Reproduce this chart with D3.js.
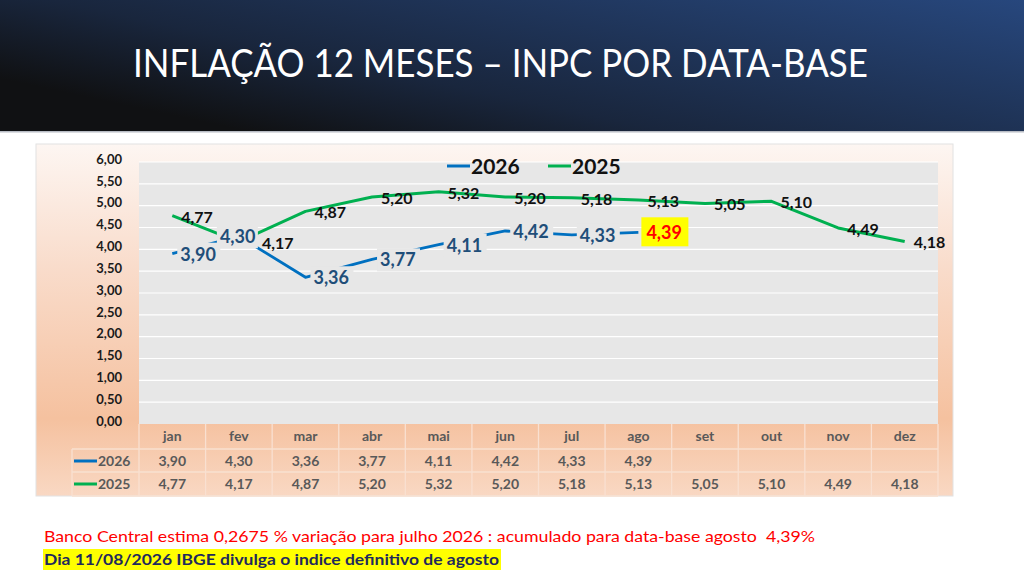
<!DOCTYPE html>
<html>
<head>
<meta charset="utf-8">
<script src="https://cdn.jsdelivr.net/npm/d3@7"></script>
<style>
  html, body { margin: 0; padding: 0; background: #ffffff; }
  svg { display: block; font-family: Lato, "Open Sans", sans-serif; }
  .pre { white-space: pre; }
</style>
</head>
<body>
<svg id="chart" width="1024" height="576"></svg>
<script>
// chart values
var months = ["jan", "fev", "mar", "abr", "mai", "jun", "jul", "ago", "set", "out", "nov", "dez"];
var values2026 = [3.90, 4.30, 3.36, 3.77, 4.11, 4.42, 4.33, 4.39];
var values2025 = [4.77, 4.17, 4.87, 5.20, 5.32, 5.20, 5.18, 5.13, 5.05, 5.10, 4.49, 4.18];
var yTicks = [0, 0.5, 1, 1.5, 2, 2.5, 3, 3.5, 4, 4.5, 5, 5.5, 6];
var seriesNames = ["2026", "2025"];

var titleText = "INFLAÇÃO 12 MESES – INPC POR DATA-BASE";
var noteText = "Banco Central estima 0,2675 % variação para julho 2026 : acumulado para data-base agosto  4,39%";
var highlightText = "Dia 11/08/2026 IBGE divulga o indice definitivo de agosto";

var blue = "#0070c0", green = "#00b050";

var ptBR = d3.formatLocale({decimal: ",", thousands: ".", grouping: [3], currency: ["R$", ""]});
var fmt = ptBR.format(".2f");

var svg = d3.select("#chart");
var defs = svg.append("defs");

// header band
var hg = defs.append("linearGradient").attr("id", "hdrGrad")
    .attr("x1", "0%").attr("y1", "60%").attr("x2", "100%").attr("y2", "0%");
hg.append("stop").attr("offset", "0%").attr("stop-color", "#101113");
hg.append("stop").attr("offset", "30%").attr("stop-color", "#19263d");
hg.append("stop").attr("offset", "100%").attr("stop-color", "#27477d");

svg.append("rect").attr("x", 0).attr("y", 0).attr("width", 1024).attr("height", 131)
    .attr("fill", "url(#hdrGrad)");
svg.append("rect").attr("x", 0).attr("y", 131).attr("width", 1024).attr("height", 1.5)
    .attr("fill", "#b8bcc4");

svg.append("text")
    .attr("x", 133).attr("y", 77)
    .attr("textLength", 735).attr("lengthAdjust", "spacingAndGlyphs")
    .attr("fill", "#ffffff").attr("font-size", 38)
    .text(titleText);

// chart box
var bg = defs.append("linearGradient").attr("id", "boxGrad")
    .attr("x1", 0).attr("y1", 0).attr("x2", 0).attr("y2", 1);
bg.append("stop").attr("offset", "0%").attr("stop-color", "#fdf6f2");
bg.append("stop").attr("offset", "35%").attr("stop-color", "#f9dccb");
bg.append("stop").attr("offset", "78%").attr("stop-color", "#f5c19f");
bg.append("stop").attr("offset", "100%").attr("stop-color", "#f9d8c3");

var box = {left: 36, top: 144, right: 953, bottom: 496};
svg.append("rect")
    .attr("x", box.left).attr("y", box.top)
    .attr("width", box.right - box.left).attr("height", box.bottom - box.top)
    .attr("fill", "url(#boxGrad)").attr("stroke", "#e2e2e2").attr("stroke-width", 1);

var plot = {left: 139, right: 938, top: 162, bottom: 424};

var x = d3.scaleBand().domain(months).range([plot.left, plot.right]);
var y = d3.scaleLinear().domain([0, 6]).range([plot.bottom, plot.top]);
var cx = function(i) { return x(months[i]) + x.bandwidth() / 2; };

svg.append("rect")
    .attr("x", plot.left).attr("y", plot.top)
    .attr("width", plot.right - plot.left).attr("height", plot.bottom - plot.top)
    .attr("fill", "#e7e7e7");

svg.append("g").selectAll("line")
    .data(yTicks.filter(function(d) { return d > 0; }))
    .enter().append("line")
    .attr("x1", plot.left).attr("x2", plot.right)
    .attr("y1", function(d) { return y(d); }).attr("y2", function(d) { return y(d); })
    .attr("stroke", "#ffffff").attr("stroke-width", 1.2);

var yAxis = svg.append("g")
    .attr("transform", "translate(" + (plot.left - 17) + ",0)")
    .call(d3.axisLeft(y).tickValues(yTicks).tickFormat(fmt).tickSize(0).tickPadding(0));
yAxis.select(".domain").remove();
yAxis.selectAll("text")
    .attr("font-family", "Lato, sans-serif")
    .attr("font-size", 13).attr("font-weight", "bold").attr("fill", "#1a1a1a")
    .attr("dy", "0.1em");

// data table below the plot
var rowTop = [424, 449, 472], rowBottom = 496;
var tableLine = "#f9e0d1";
var table = svg.append("g");

table.selectAll(".vline")
    .data(d3.range(months.length + 1))
    .enter().append("line")
    .attr("x1", function(i) { return plot.left + i * x.bandwidth(); })
    .attr("x2", function(i) { return plot.left + i * x.bandwidth(); })
    .attr("y1", rowTop[0]).attr("y2", rowBottom)
    .attr("stroke", tableLine).attr("stroke-width", 1.3);

table.append("line").attr("x1", 72).attr("x2", 72)
    .attr("y1", rowTop[1]).attr("y2", rowBottom)
    .attr("stroke", tableLine).attr("stroke-width", 1.3);

[rowTop[1], rowTop[2], rowBottom].forEach(function(yy) {
    table.append("line").attr("x1", 72).attr("x2", plot.right)
        .attr("y1", yy).attr("y2", yy)
        .attr("stroke", tableLine).attr("stroke-width", 1.3);
});

table.selectAll(".month")
    .data(months)
    .enter().append("text")
    .attr("x", function(d) { return x(d) + x.bandwidth() / 2; })
    .attr("y", 441)
    .attr("text-anchor", "middle")
    .attr("font-size", 14).attr("font-weight", "bold").attr("fill", "#595959")
    .text(function(d) { return d; });

var tableRows = [
    {name: seriesNames[0], values: values2026, color: blue, y: 466},
    {name: seriesNames[1], values: values2025, color: green, y: 489}
];

tableRows.forEach(function(row) {
    table.append("line")
        .attr("x1", 74).attr("x2", 97)
        .attr("y1", row.y - 5).attr("y2", row.y - 5)
        .attr("stroke", row.color).attr("stroke-width", 3);
    table.append("text")
        .attr("x", 98).attr("y", row.y)
        .attr("font-size", 14).attr("font-weight", "bold").attr("fill", "#595959")
        .text(row.name);
    table.selectAll(null)
        .data(row.values)
        .enter().append("text")
        .attr("x", function(d, i) { return cx(i); })
        .attr("y", row.y)
        .attr("text-anchor", "middle")
        .attr("font-size", 14).attr("font-weight", "bold").attr("fill", "#595959")
        .text(function(d) { return fmt(d); });
});

// lines
var line = d3.line()
    .x(function(d, i) { return cx(i); })
    .y(function(d) { return y(d); });

svg.append("path").datum(values2025)
    .attr("d", line).attr("fill", "none")
    .attr("stroke", green).attr("stroke-width", 3).attr("stroke-linejoin", "round");

svg.append("path").datum(values2026)
    .attr("d", line).attr("fill", "none")
    .attr("stroke", blue).attr("stroke-width", 2.8).attr("stroke-linejoin", "round");

// 2025 labels, right of the point (fev pushed clear of the 2026 label)
svg.append("g").selectAll("text")
    .data(values2025)
    .enter().append("text")
    .attr("x", function(d, i) { return cx(i) + (i === 1 ? 23 : 9); })
    .attr("y", function(d) { return y(d) + 7; })
    .attr("font-size", 16).attr("font-weight", "bold").attr("fill", "#111111")
    .text(function(d) { return fmt(d); });

// 2026 labels, background boxes hide the line like the original
var last = values2026.length - 1;
var blueLabels = svg.append("g").selectAll("g")
    .data(values2026)
    .enter().append("g")
    .attr("transform", function(d, i) {
        var tx = (i === 1) ? cx(i) - 19 : cx(i) + 8;
        return "translate(" + tx + "," + y(d) + ")";
    });

blueLabels.append("rect")
    .attr("x", function(d, i) { return i === last ? -5 : -3; })
    .attr("y", function(d, i) { return i === last ? -15 : -11; })
    .attr("width", function(d, i) { return i === last ? 47 : (i === 1 ? 41 : 43); })
    .attr("height", function(d, i) { return i === last ? 29 : 23; })
    .attr("fill", function(d, i) { return i === last ? "#ffff00" : "#e7e7e7"; });

blueLabels.append("text")
    .attr("x", 0).attr("y", 7)
    .attr("font-size", 18).attr("font-weight", "bold")
    .attr("fill", function(d, i) { return i === last ? "#ff0000" : "#1f4e79"; })
    .text(function(d) { return fmt(d); });

// legend
var legend = svg.append("g").selectAll("g")
    .data([{name: seriesNames[0], color: blue, x: 447}, {name: seriesNames[1], color: green, x: 548}])
    .enter().append("g")
    .attr("transform", function(d) { return "translate(" + d.x + ",166)"; });
legend.append("line")
    .attr("x1", 0).attr("x2", 23).attr("y1", 0).attr("y2", 0)
    .attr("stroke", function(d) { return d.color; }).attr("stroke-width", 3);
legend.append("text")
    .attr("x", 24).attr("y", 7.5)
    .attr("font-size", 21).attr("font-weight", "bold").attr("fill", "#111111")
    .text(function(d) { return d.name; });

// notes under the chart
svg.append("text")
    .attr("class", "pre")
    .attr("x", 44).attr("y", 542)
    .attr("textLength", 771).attr("lengthAdjust", "spacingAndGlyphs")
    .attr("font-size", 15).attr("fill", "#ff0000")
    .text(noteText);

svg.append("rect")
    .attr("x", 43).attr("y", 549).attr("width", 458).attr("height", 21)
    .attr("fill", "#ffff00");
svg.append("text")
    .attr("x", 44).attr("y", 565)
    .attr("textLength", 455).attr("lengthAdjust", "spacingAndGlyphs")
    .attr("font-size", 15).attr("font-weight", "bold").attr("fill", "#1f2a5c")
    .text(highlightText);
</script>
</body>
</html>
